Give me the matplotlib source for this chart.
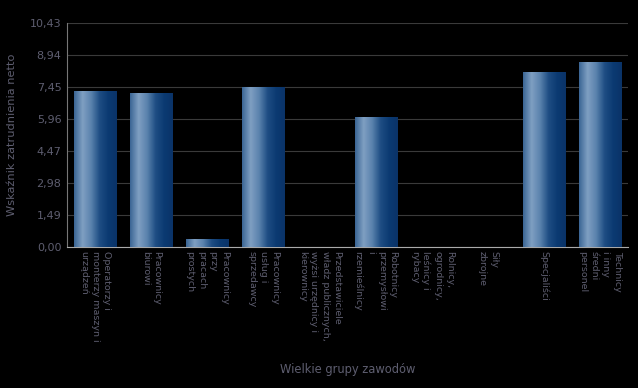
import matplotlib.pyplot as plt
import numpy as np
from matplotlib.colors import LinearSegmentedColormap

categories = [
    "Operatorzy i\nmonterzy maszyn i\nurządzeń",
    "Pracownicy\nbiurowi",
    "Pracownicy\nprzy\npracach\nprostych",
    "Pracownicy\nusług i\nsprzedawcy",
    "Przedstawiciele\nwładz publicznych,\nwyżsi urzędnicy i\nkierownicy",
    "Robotnicy\nprzemysłowi\ni\nrzemieślnicy",
    "Rolnicy,\nogrodnicy,\nleśnicy i\nrybacy",
    "Siły\nzbrojne",
    "Specjaliści",
    "Technicy\ni inny\nśredni\npersonel",
]
values = [7.26, 7.17, 0.37, 7.45, 0, 6.05, 0, 0, 8.15, 8.61]
yticks = [0, 1.49, 2.98, 4.47, 5.96, 7.45, 8.94, 10.43]

bg = "#000000"
txt = "#5e5e70"

fig = plt.figure(figsize=(6.38, 3.88), dpi=100, facecolor=bg)
ax = fig.add_axes([67 / 638, 1 - 247 / 388, 561 / 638, 224 / 388])
ax.set_facecolor(bg)

x = np.arange(len(categories))
bars = ax.bar(x, values, width=0.75, color="#1f4f85", zorder=2)

# cylinder-like shading across each bar
cmap = LinearSegmentedColormap.from_list(
    "cyl", ["#3a6594", "#7f9fc2", "#5a82ad", "#1e4d83", "#0b3a72", "#0a3368"])
grad = np.linspace(0, 1, 256).reshape(1, -1)
for b in bars:
    if b.get_height() <= 0:
        continue
    bx, by = b.get_x(), b.get_y()
    w, h = b.get_width(), b.get_height()
    im = ax.imshow(grad, cmap=cmap, aspect="auto", extent=[bx, bx + w, by, by + h], zorder=3)
    im.set_clip_path(b)

ax.set_xlim(-0.5, len(categories) - 0.5)
ax.set_ylim(0, 10.43)
ax.set_yticks(yticks)
ax.set_yticklabels([f"{v:.2f}".replace(".", ",") for v in yticks], color=txt, fontsize=8)
ax.yaxis.grid(True, color="#3a3a3a", linewidth=0.8, zorder=0)
ax.set_axisbelow(True)

ax.set_xticks(x)
ax.set_xticklabels(categories, rotation=270, ha="center", va="top",
                   multialignment="left", color=txt, fontsize=6.8, linespacing=1.35)
ax.tick_params(axis="both", length=0, pad=4)
ax.tick_params(axis="x", pad=3)

for s in ["top", "right"]:
    ax.spines[s].set_visible(False)
ax.spines["left"].set_color("#777777")
ax.spines["bottom"].set_color("#aaaaaa")

ax.set_ylabel("Wskaźnik zatrudnienia netto", color=txt, fontsize=8.2, labelpad=9)
fig.text(348 / 638, 1 - 370 / 388, "Wielkie grupy zawodów", color=txt, fontsize=8.3,
         ha="center", va="center")

fig.savefig("out.png", dpi=100, facecolor=bg)
